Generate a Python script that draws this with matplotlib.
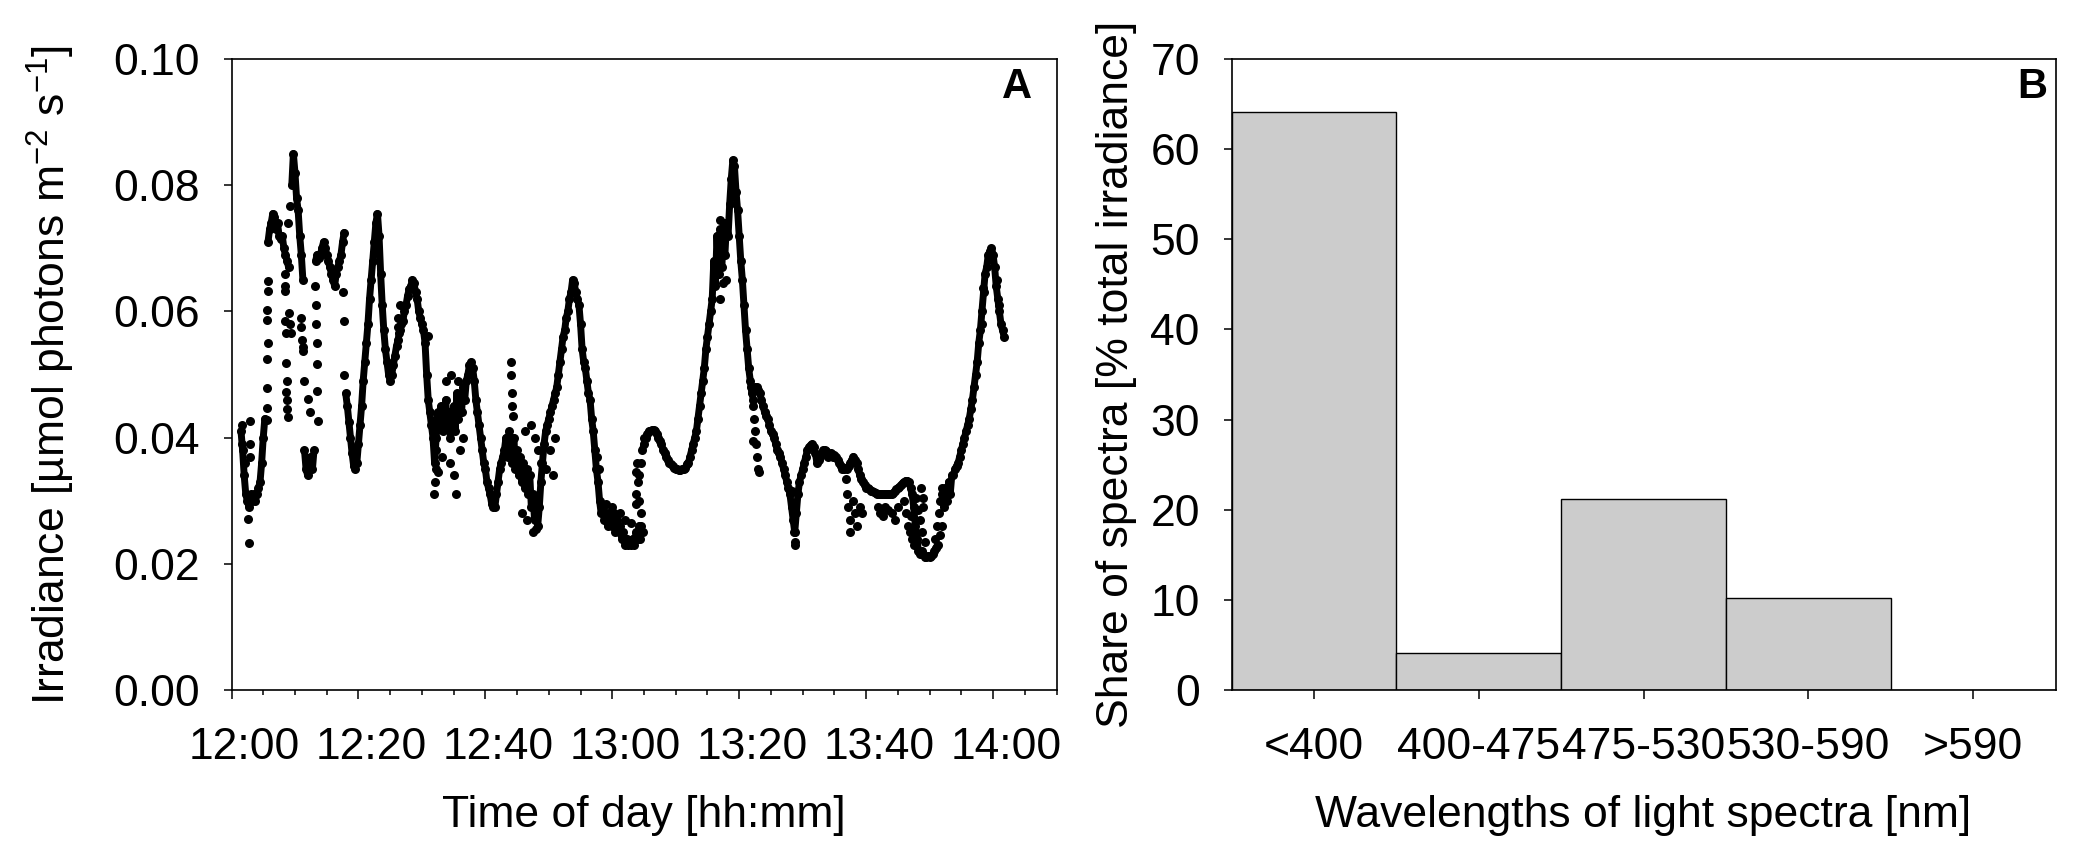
import numpy as np
import matplotlib
matplotlib.use("Agg")
import matplotlib.pyplot as plt
from matplotlib.ticker import MultipleLocator
from matplotlib.transforms import ScaledTranslation

plt.rcParams['font.family'] = ['Liberation Sans', 'DejaVu Sans']
plt.rcParams['mathtext.fontset'] = 'custom'
plt.rcParams['mathtext.rm'] = 'Liberation Sans'
plt.rcParams['mathtext.it'] = 'Liberation Sans:italic'
plt.rcParams['mathtext.bf'] = 'Liberation Sans:bold'

# --- panel A: irradiance trace, minutes after 12:00, read every 0.25 min ---
STEP = 0.25
TRACE = [
    (1.5, [0.041, 0.038, 0.034, 0.031, 0.030, 0.029, 0.031, 0.030, 0.031, 0.030,
           0.031, 0.032, 0.033, 0.036, 0.040, 0.043]),
    (5.75, [0.071, 0.073, 0.074, 0.0755, 0.075, 0.073, 0.074, 0.072, 0.0715, 0.072,
            0.070, 0.069, 0.068, 0.067]),
    (9.5, [0.080, 0.085, 0.082, 0.078, 0.076, 0.072, 0.069, 0.065]),
    (11.5, [0.038, 0.035, 0.034, 0.036, 0.037, 0.035, 0.038]),
    (13.25, [0.068, 0.069, 0.0685, 0.069, 0.070, 0.071, 0.070, 0.069, 0.068, 0.067,
             0.066, 0.065, 0.064, 0.066, 0.067, 0.068, 0.069, 0.071, 0.0725]),
    (18.0, [0.047, 0.045, 0.0425, 0.040, 0.0375, 0.0355, 0.035, 0.036, 0.039, 0.042,
            0.045, 0.049, 0.052, 0.055, 0.058, 0.062, 0.065, 0.068, 0.071, 0.074,
            0.0755, 0.072, 0.066, 0.061, 0.057, 0.054, 0.052, 0.050, 0.049, 0.050,
            0.0515, 0.053, 0.0545, 0.0555, 0.057, 0.058, 0.0585, 0.060, 0.061, 0.0625,
            0.0635, 0.064, 0.065, 0.0645, 0.063, 0.062, 0.060, 0.059, 0.058, 0.057,
            0.055, 0.050, 0.046, 0.044, 0.042, 0.040, 0.036, 0.040, 0.044, 0.042,
            0.045, 0.041, 0.043, 0.046, 0.042, 0.044, 0.040, 0.043, 0.045, 0.041,
            0.047, 0.043, 0.046, 0.044, 0.048, 0.046, 0.049, 0.050, 0.0515, 0.052,
            0.051, 0.049, 0.046, 0.044, 0.042, 0.040, 0.038, 0.036, 0.035, 0.033,
            0.032, 0.031, 0.0295, 0.029, 0.029, 0.031, 0.033, 0.035, 0.036, 0.037,
            0.038, 0.040, 0.037, 0.041, 0.039, 0.036, 0.040, 0.035, 0.038, 0.034,
            0.037, 0.033, 0.036, 0.032, 0.035, 0.031, 0.034, 0.029, 0.031, 0.027,
            0.030, 0.026, 0.029, 0.033, 0.036, 0.039, 0.041, 0.042, 0.043, 0.044,
            0.045, 0.046, 0.047, 0.048, 0.050, 0.052, 0.054, 0.056, 0.057, 0.059,
            0.060, 0.062, 0.063, 0.065, 0.0645, 0.063, 0.062, 0.061, 0.058, 0.054,
            0.052, 0.051, 0.049, 0.047, 0.046, 0.043, 0.041, 0.038, 0.035, 0.033,
            0.030, 0.028, 0.029, 0.027, 0.028, 0.026, 0.028, 0.027, 0.026, 0.028,
            0.025, 0.027, 0.025, 0.026, 0.024, 0.025, 0.023, 0.024, 0.023, 0.0235,
            0.023, 0.024, 0.023, 0.025, 0.024, 0.026]),
    (64.75, [0.038, 0.039, 0.040, 0.0405, 0.041, 0.041, 0.0412, 0.0412, 0.041, 0.0405,
             0.040, 0.0395, 0.039, 0.038, 0.0375, 0.037, 0.0365, 0.036, 0.0358, 0.0355,
             0.0352, 0.035, 0.035, 0.0348, 0.0348, 0.035, 0.035, 0.0352, 0.0358, 0.036,
             0.037, 0.038, 0.039, 0.040, 0.041, 0.043, 0.045, 0.047, 0.049, 0.051,
             0.054, 0.056, 0.058, 0.060, 0.062, 0.068, 0.064, 0.072, 0.066, 0.073,
             0.067, 0.071, 0.069, 0.074, 0.072, 0.077, 0.081, 0.084, 0.083, 0.079,
             0.076, 0.072, 0.068, 0.065, 0.061, 0.057, 0.054, 0.051, 0.049, 0.047,
             0.046]),
    (82.5, [0.048, 0.048, 0.0475, 0.047, 0.046, 0.045, 0.044, 0.0435, 0.043, 0.042,
            0.041, 0.0405, 0.040, 0.039, 0.038, 0.0375, 0.037, 0.036, 0.035, 0.034,
            0.033, 0.032, 0.031, 0.029, 0.027, 0.025, 0.028, 0.031, 0.033, 0.034,
            0.035, 0.036, 0.037, 0.038, 0.0385, 0.0388, 0.039, 0.0385, 0.0375, 0.036,
            0.0365, 0.037, 0.0375, 0.038, 0.038, 0.0378, 0.037, 0.0372, 0.0375, 0.037,
            0.0372, 0.037, 0.0365, 0.036, 0.0355, 0.035, 0.035, 0.0352, 0.035, 0.0355,
            0.036, 0.0365, 0.037, 0.0365, 0.036, 0.035, 0.034, 0.0335, 0.033, 0.0325,
            0.032, 0.032, 0.0318, 0.0315, 0.0315, 0.0313, 0.0312, 0.031, 0.031, 0.031,
            0.031, 0.031, 0.031, 0.031, 0.031, 0.031, 0.031, 0.0312, 0.0315, 0.0318,
            0.032, 0.0322, 0.0325, 0.0328, 0.033, 0.0332, 0.0332, 0.033, 0.032, 0.031,
            0.029, 0.026, 0.024, 0.022, 0.0215, 0.022, 0.0215, 0.021, 0.021, 0.0212,
            0.021, 0.0212, 0.0215, 0.022, 0.0225, 0.023]),
    (112.0, [0.031, 0.029, 0.032, 0.030, 0.033, 0.031, 0.034, 0.034, 0.035, 0.0355,
             0.036, 0.037, 0.038, 0.039, 0.040, 0.041, 0.042, 0.043, 0.0445, 0.046,
             0.048, 0.050, 0.052, 0.055, 0.057, 0.060, 0.063, 0.066, 0.067, 0.069,
             0.0695, 0.070, 0.069, 0.067, 0.064, 0.062, 0.060, 0.058, 0.057, 0.056]),
]

# loose readings that sit off the main trace
dot_min = [1.6, 1.7, 2.2, 2.7, 2.6, 2.9, 2.95, 2.9,
           5.55, 5.6, 5.6, 5.65, 5.7, 5.6, 5.65, 5.7, 5.75,
           8.4, 8.5, 8.45, 8.5, 8.6, 8.55, 8.7, 8.6, 8.8, 8.7, 8.9,
           9.1, 9.2, 9.3, 9.2, 8.9,
           10.9, 11.0, 11.1, 11.2, 11.3, 11.5, 12.0, 12.3,
           13.2, 13.3, 13.35, 13.4, 13.45, 13.5, 13.6,
           17.6, 17.65, 17.7,
           26.2, 26.3, 26.4, 26.5, 30.9,
           31.9, 32.1, 32.3, 32.6, 32.2, 33.2, 34.5, 35.0, 35.3, 36.0, 36.4, 33.8, 34.6, 35.7,
           44.1, 44.1, 44.15, 44.2, 44.3,
           47.2, 47.8, 48.3, 48.8, 49.5, 50.2, 50.6, 51.0, 46.3, 45.8, 46.6, 47.5, 48.0,
           57.6, 57.9, 59.0, 60.0, 61.2, 62.0, 63.0, 63.8, 63.8, 64.0, 64.2, 64.5, 64.6,
           64.4, 63.7, 64.8, 63.9, 64.2, 64.6, 65.0,
           76.2, 76.6, 77.0, 77.4, 77.9, 77.6, 76.9,
           81.9, 82.1, 82.3, 82.5, 82.6, 82.8, 83.0, 83.1, 82.2,
           88.3, 88.5, 88.6, 88.7, 88.8, 88.75,
           97.0, 97.2, 97.4, 97.5, 98.0, 98.3, 98.6, 99.0, 99.3, 96.8,
           101.8, 102.2, 102.6, 103.0, 103.5, 104.0, 104.6, 105.0,
           106.0, 106.3, 106.6, 106.9, 107.2, 107.5, 107.0, 108.2, 108.5, 108.8, 109.2,
           110.8, 111.2, 111.5, 111.7, 111.9, 111.6, 112.0, 107.8, 108.6, 108.9, 109.0,
           118.3, 118.4, 120.6, 121.0]
dot_val = [0.042, 0.039, 0.036, 0.0233, 0.0271, 0.0426, 0.039, 0.037,
           0.0428, 0.0447, 0.0479, 0.0524, 0.055, 0.0587, 0.0603, 0.0632, 0.0648,
           0.066, 0.064, 0.0632, 0.0584, 0.0565, 0.0519, 0.049, 0.0472, 0.046, 0.0445, 0.0432,
           0.0597, 0.058, 0.0565, 0.0767, 0.074,
           0.059, 0.0575, 0.0555, 0.0544, 0.0537, 0.049, 0.0461, 0.044,
           0.064, 0.061, 0.058, 0.055, 0.0516, 0.0474, 0.0426,
           0.063, 0.0584, 0.050,
           0.059, 0.0575, 0.0565, 0.061, 0.0561,
           0.031, 0.033, 0.035, 0.0345, 0.038, 0.037, 0.036, 0.034, 0.031, 0.038, 0.040, 0.049, 0.050, 0.049,
           0.052, 0.050, 0.047, 0.045, 0.0435,
           0.042, 0.040, 0.038, 0.036, 0.035, 0.038, 0.034, 0.040, 0.041, 0.028, 0.027, 0.025, 0.0255,
           0.037, 0.035, 0.0295, 0.029, 0.028, 0.027, 0.0265, 0.0295, 0.031, 0.033, 0.030, 0.028, 0.026,
           0.024, 0.0345, 0.025, 0.036, 0.034, 0.036, 0.040,
           0.066, 0.070, 0.062, 0.0645, 0.065, 0.074, 0.0745,
           0.048, 0.045, 0.043, 0.041, 0.039, 0.037, 0.035, 0.0345, 0.0395,
           0.0315, 0.029, 0.027, 0.025, 0.0235, 0.023,
           0.031, 0.029, 0.027, 0.025, 0.030, 0.028, 0.026, 0.029, 0.028, 0.0335,
           0.029, 0.028, 0.0275, 0.029, 0.0285, 0.028, 0.027, 0.029,
           0.030, 0.028, 0.026, 0.025, 0.024, 0.023, 0.0275, 0.0285, 0.027, 0.025, 0.0235,
           0.024, 0.026, 0.028, 0.030, 0.032, 0.0245, 0.026, 0.0305, 0.032, 0.0305, 0.029,
           0.058, 0.0637, 0.065, 0.061]

time_ticks = [0, 20, 40, 60, 80, 100, 120]
time_labels = ["12:00", "12:20", "12:40", "13:00", "13:20", "13:40", "14:00"]

# --- panel B: spectral shares ---
bands = ["<400", "400-475", "475-530", "530-590", ">590"]
shares = [64.1, 4.1, 21.2, 10.25, 0.0]

FS = 32
fig = plt.figure(figsize=(20.8, 8.64), dpi=100)
axA = fig.add_axes([231.5 / 2080, 1 - 690 / 864, 825 / 2080, 631 / 864])
axB = fig.add_axes([1231.5 / 2080, 1 - 690 / 864, 824 / 2080, 631 / 864])

for start, vals in TRACE:
    t = start + STEP * np.arange(len(vals))
    axA.plot(t, vals, color='k', lw=5, marker='o', ms=6.5, mew=0, solid_capstyle='round')
axA.plot(dot_min, dot_val, 'o', color='k', ms=6.5, mew=0)

axA.set_xlim(0, 130)
axA.set_ylim(0, 0.10)
axA.set_xticks(time_ticks)
axA.set_xticklabels(time_labels)
axA.xaxis.set_minor_locator(MultipleLocator(5))
axA.set_yticks(np.arange(0, 0.101, 0.02))
axA.set_yticklabels([f"{v:.2f}" for v in np.arange(0, 0.101, 0.02)])
axA.set_xlabel("Time of day [hh:mm]", fontsize=FS)
axA.set_ylabel(r"Irradiance [µmol photons m$^{-2}$ s$^{-1}$]", fontsize=FS)
axA.text(0.970, 0.987, "A", transform=axA.transAxes, ha='right', va='top',
         fontsize=30, fontweight='bold')

axB.bar(range(len(bands)), shares, width=1.0, color='#cccccc', edgecolor='k', lw=1.0)
axB.set_xlim(-0.5, 4.5)
axB.set_ylim(0, 70)
axB.set_xticks(range(len(bands)))
axB.set_xticklabels(bands)
axB.set_yticks(range(0, 71, 10))
axB.set_xlabel("Wavelengths of light spectra [nm]", fontsize=FS)
axB.set_ylabel("Share of spectra [% total irradiance]", fontsize=FS)
axB.text(0.990, 0.987, "B", transform=axB.transAxes, ha='right', va='top',
         fontsize=30, fontweight='bold')

for ax in (axA, axB):
    for s in ax.spines.values():
        s.set_linewidth(1.2)
    ax.tick_params(axis='x', which='major', direction='out', length=6.5, width=1.1,
                   pad=20, labelsize=FS)
    ax.tick_params(axis='x', which='minor', direction='out', length=3.6, width=1.1)
    ax.tick_params(axis='y', direction='out', length=5.8, width=1.1, pad=17, labelsize=FS)
    ax.xaxis.set_label_coords(0.5, -0.166)

axA.yaxis.set_label_coords(-0.187, 0.5)
axB.yaxis.set_label_coords(-0.115, 0.5)

# time labels sit a little to the right of their ticks
shift = ScaledTranslation(13 / 100, 0, fig.dpi_scale_trans)
for lbl in axA.get_xticklabels():
    lbl.set_transform(lbl.get_transform() + shift)

fig.savefig("out.png", dpi=100, facecolor='white')
